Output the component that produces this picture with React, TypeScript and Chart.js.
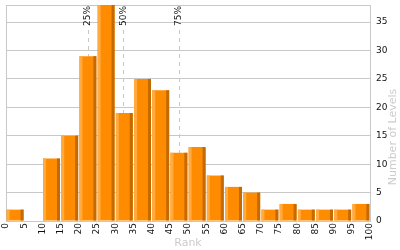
import React, { useEffect, useRef } from "react";
import { Chart, registerables } from "chart.js";

Chart.register(...registerables);

const binStarts = [0, 5, 10, 15, 20, 25, 30, 35, 40, 45, 50, 55, 60, 65, 70, 75, 80, 85, 90, 95];
const binWidth = 5;
const levelCounts = [2, 0, 11, 15, 29, 38, 19, 25, 23, 12, 13, 8, 6, 5, 2, 3, 2, 2, 2, 3];
const percentileRanks = [22.4, 32.2, 47.4];
const percentileLabels = ["25%", "50%", "75%"];
const yTickStep = 5;
const yMax = 38;

const GRID = "#c8c8c8";
const TICK_FONT = "DejaVu Sans";

const percentilePlugin = {
  id: "percentiles",
  beforeDatasetsDraw(chart: any) {
    const { ctx, chartArea, scales } = chart;
    ctx.save();
    ctx.strokeStyle = GRID;
    ctx.lineWidth = 1;
    ctx.setLineDash([4, 4]);
    percentileRanks.forEach((p) => {
      const x = Math.round(scales.x.getPixelForValue(p)) + 0.5;
      ctx.beginPath();
      ctx.moveTo(x, chartArea.top + 25);
      ctx.lineTo(x, chartArea.bottom);
      ctx.stroke();
    });
    ctx.restore();
  },
  afterDatasetsDraw(chart: any) {
    const { ctx, chartArea, scales } = chart;
    const meta = chart.getDatasetMeta(0);
    ctx.save();
    meta.data.forEach((el: any) => {
      const { x, y, base, width } = el.getProps(["x", "y", "base", "width"], true);
      const h = base - y;
      if (h <= 0) return;
      const left = x - width / 2;
      ctx.fillStyle = "#ffab40";
      ctx.fillRect(left, y, 3, h);
      ctx.fillStyle = "#c46a00";
      ctx.fillRect(left + width - 3, y, 3, h);
    });
    ctx.fillStyle = "#111";
    ctx.font = `9px "${TICK_FONT}"`;
    ctx.textAlign = "right";
    ctx.textBaseline = "middle";
    percentileRanks.forEach((p, i) => {
      const x = scales.x.getPixelForValue(p);
      ctx.save();
      ctx.translate(x + 0.5, chartArea.top + 1);
      ctx.rotate(-Math.PI / 2);
      ctx.fillText(percentileLabels[i], 0, 0);
      ctx.restore();
    });
    ctx.fillStyle = "#cccccc";
    ctx.font = `11px "${TICK_FONT}"`;
    ctx.textAlign = "center";
    ctx.textBaseline = "middle";
    ctx.fillText("Rank", (chartArea.left + chartArea.right) / 2, 243);
    ctx.save();
    ctx.translate(393, 137);
    ctx.rotate(-Math.PI / 2);
    ctx.fillText("Number of Levels", 0, 0);
    ctx.restore();
    ctx.restore();
  },
};

export default function App() {
  const ref = useRef<HTMLCanvasElement>(null);
  useEffect(() => {
    if (!ref.current) return;
    const chart = new Chart(ref.current, {
      type: "bar",
      data: {
        datasets: [
          {
            data: binStarts.map((s, i) => ({ x: s + binWidth / 2, y: levelCounts[i] })),
            backgroundColor: "#ff8c00",
            borderWidth: 0,
            categoryPercentage: 1,
            barPercentage: 0.93,
          },
        ],
      },
      options: {
        responsive: false,
        animation: false,
        layout: { padding: { left: 6, top: 5, right: 0, bottom: 0 } },
        plugins: { legend: { display: false }, tooltip: { enabled: false } },
        scales: {
          x: {
            type: "linear",
            min: 0,
            max: 100,
            offset: false,
            grid: {
              offset: false,
              drawTicks: false,
              color: (c: any) => (c.tick && c.tick.value === 0 ? GRID : "rgba(0,0,0,0)"),
            },
            border: { display: false },
            ticks: {
              stepSize: 5,
              autoSkip: false,
              maxRotation: 90,
              minRotation: 90,
              padding: 2,
              color: "#111",
              font: { family: TICK_FONT, size: 9 },
            },
            afterFit(scale: any) {
              scale.height = 29;
              scale.paddingLeft = 0;
              scale.paddingRight = 0;
            },
          },
          y: {
            position: "right",
            min: 0,
            max: yMax,
            grid: { color: GRID, drawTicks: false },
            border: { display: true, color: GRID },
            ticks: {
              stepSize: yTickStep,
              padding: 6,
              color: "#111",
              font: { family: TICK_FONT, size: 9 },
              callback: (v: any) => (Number(v) % yTickStep === 0 ? String(v) : ""),
            },
            afterFit(scale: any) {
              scale.width = 30;
              scale.paddingTop = 0;
              scale.paddingBottom = 0;
            },
          },
        },
      },
      plugins: [percentilePlugin],
    });
    return () => chart.destroy();
  }, []);
  return (
    <div style={{ position: "fixed", left: 0, top: 0, width: 400, height: 250, background: "#fff" }}>
      <canvas ref={ref} width={400} height={250} />
    </div>
  );
}
